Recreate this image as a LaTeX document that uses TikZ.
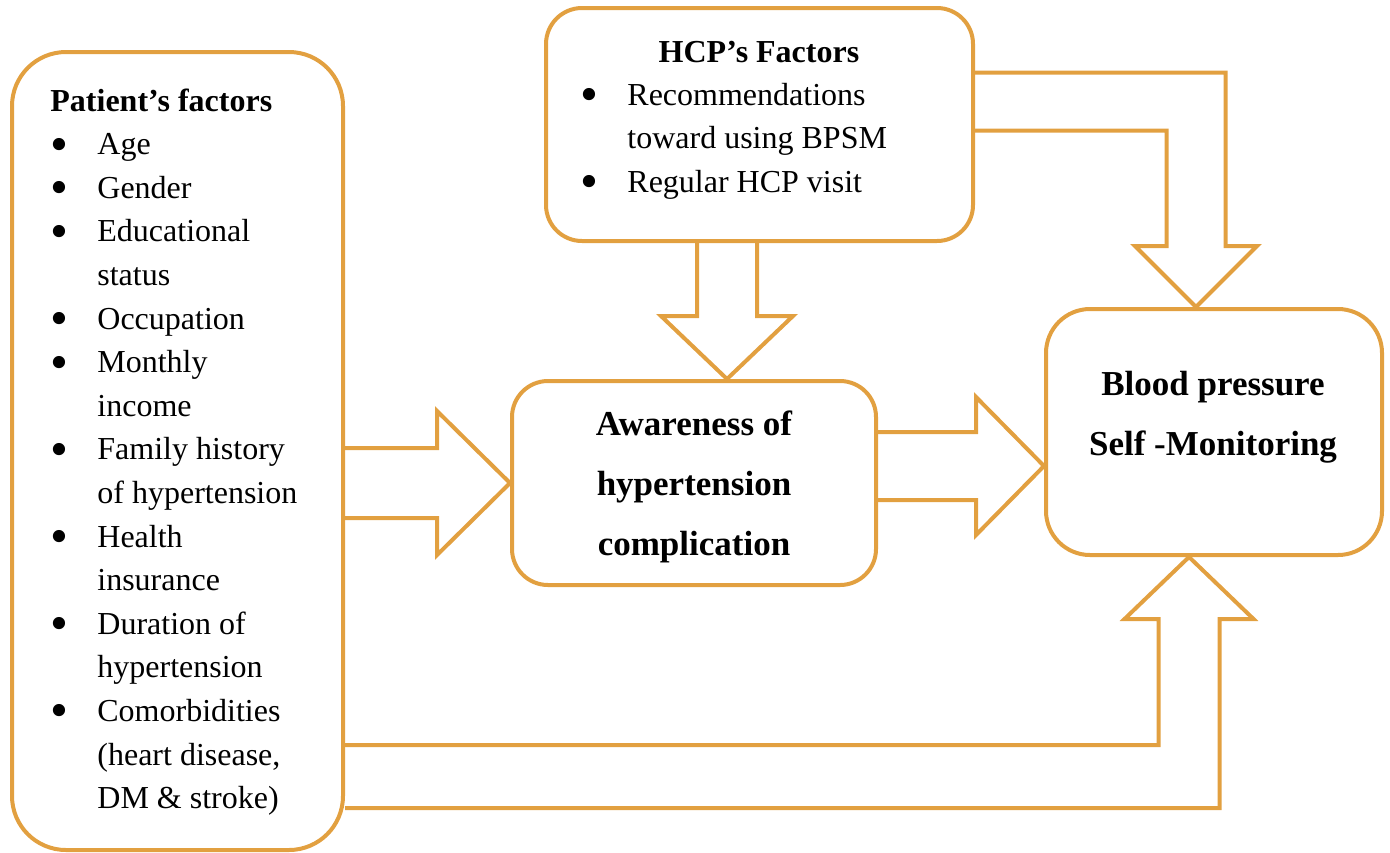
\documentclass[tikz,border=0pt]{standalone}
\usepackage{fontspec}
\setmainfont{Liberation Serif}
\usetikzlibrary{calc}

\definecolor{boxorange}{RGB}{226,160,64}
\newcommand{\dotmark}{\smash{\raisebox{-3.2pt}{\scalebox{1.6}{\textbullet}}}}

\tikzset{
  box/.style={draw=boxorange, line width=2pt, inner sep=0pt},
  blockarrow/.style={draw=boxorange, line width=2pt, line join=miter},
  listtext/.style={anchor=base west, inner sep=0pt, font=\fontsize{16}{21.8}\selectfont},
  headtext/.style={align=center, inner sep=0pt, font=\fontsize{17.5}{30}\selectfont\bfseries}
}

\begin{document}
\begin{tikzpicture}[x=0.5pt,y=-0.5pt]

  \useasboundingbox (0,0) rectangle (1390,852);

  % boxes
  \node[box, rounded corners=27pt, minimum width=165.5pt, minimum height=399pt] (patient) at (177.5,451) {};
  \node[box, rounded corners=18pt, minimum width=213.5pt, minimum height=116.5pt] (hcp) at (759.5,124.5) {};
  \node[box, rounded corners=18pt, minimum width=182pt, minimum height=102pt] (awareness) at (694,483) {};
  \node[box, rounded corners=22pt, minimum width=168pt, minimum height=123pt] (bp) at (1214,432) {};

  % texts
  \node[listtext] (patient list) at (50,111) {%
    \begin{tabular}[t]{@{}p{23.5pt}@{}l@{}}
      \multicolumn{2}{@{}l@{}}{\textbf{Patient’s factors}}\\
      \dotmark & Age\\
      \dotmark & Gender\\
      \dotmark & Educational\\
               & status\\
      \dotmark & Occupation\\
      \dotmark & Monthly\\
               & income\\
      \dotmark & Family history\\
               & of hypertension\\
      \dotmark & Health\\
               & insurance\\
      \dotmark & Duration of\\
               & hypertension\\
      \dotmark & Comorbidities\\
               & (heart disease,\\
               & DM \& stroke)
    \end{tabular}};
  \node[listtext, anchor=base] (hcp title) at (759,62) {\textbf{HCP’s Factors}};
  \node[listtext] (hcp list) at (580,105) {%
    \begin{tabular}[t]{@{}p{23.5pt}@{}l@{}}
      \dotmark & Recommendations\\
               & toward using BPSM\\
      \dotmark & Regular HCP visit
    \end{tabular}};
  \node[headtext] (awareness text) at (694,487) {Awareness of\\hypertension\\complication};
  \node[headtext] (bp text) at (1213,417) {Blood pressure\\Self -Monitoring};

  % block arrows
  \draw[blockarrow] ($(awareness.west -| patient.east)+(0,-35)$) -- ($(awareness.west)+(-73,-35)$)
    -- ++(0,-37) -- (awareness.west) -- ++(-73,72) -- ++(0,-37)
    -- ($(awareness.west -| patient.east)+(0,35)$);

  \coordinate (b tip) at ($(bp.west)+(0,34)$);
  \draw[blockarrow] ($(b tip -| awareness.east)+(0,-34)$) -- ($(b tip)+(-68,-34)$)
    -- ++(0,-35) -- (b tip) -- ++(-68,69) -- ++(0,-35)
    -- ($(b tip -| awareness.east)+(0,34)$);

  \coordinate (c tip) at ($(awareness.north)+(33,0)$);
  \draw[blockarrow] ($(c tip |- hcp.south)+(-30,0)$) -- ($(c tip)+(-30,-63)$)
    -- ++(-36,0) -- (c tip) -- ++(66,-63) -- ++(-36,0)
    -- ($(c tip |- hcp.south)+(30,0)$);

  \coordinate (d tip) at ($(bp.north)+(-18,0)$);
  \draw[blockarrow] ($(hcp.east)+(0,-52)$) -| ($(d tip)+(29.5,-61)$)
    -- ++(31.5,0) -- (d tip) -- ++(-61,-61) -- ++(31.5,0)
    |- ($(hcp.east)+(0,6)$);

  \coordinate (e tip) at ($(bp.south)+(-25,0)$);
  \draw[blockarrow] ($(patient.east)+(0,294)$) -| ($(e tip)+(-30.5,62)$)
    -- ++(-34,0) -- (e tip) -- ++(64.5,62) -- ++(-34,0)
    |- ($(patient.east)+(0,357)$);

\end{tikzpicture}
\end{document}
